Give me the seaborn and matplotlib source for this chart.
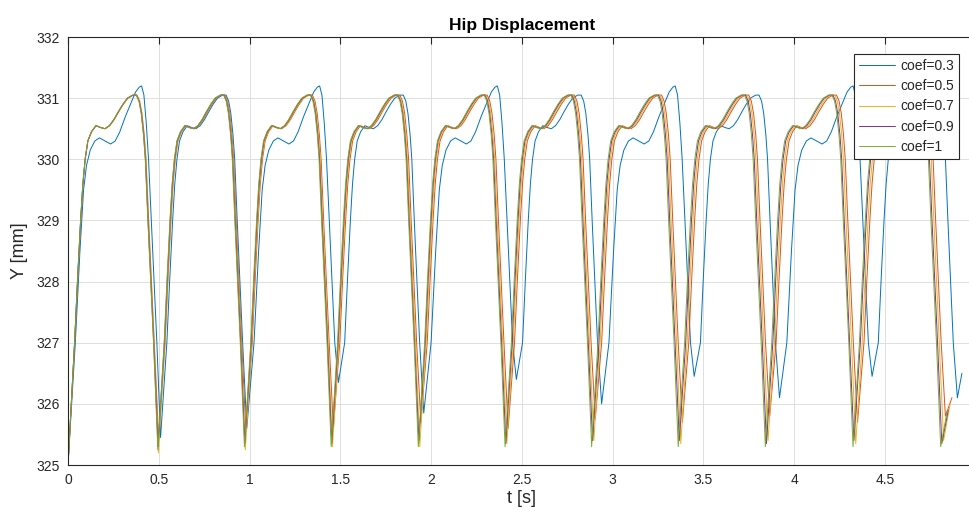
import pandas as pd
import seaborn as sns
import matplotlib
matplotlib.use("Agg")
import matplotlib.pyplot as plt
from matplotlib.ticker import FuncFormatter

labels = ["coef=0.3", "coef=0.5", "coef=0.7", "coef=0.9", "coef=1"]
colors = ["#0072BD", "#D95319", "#EDB120", "#7E2F8E", "#77AC30"]

# one step of the bundle: phase inside the step (0 = trough) and Y [mm]
step_phase = [0.073, 0.105, 0.14, 0.165, 0.19, 0.22, 0.26, 0.31, 0.36, 0.41, 0.46, 0.51,
              0.56, 0.61, 0.66, 0.72, 0.76, 0.79, 0.815, 0.84, 0.86, 0.889, 0.92, 0.952]
step_y = [327.0, 328.0, 329.0, 329.6, 330.0, 330.3, 330.45, 330.55, 330.52, 330.5, 330.55, 330.65,
          330.78, 330.9, 331.0, 331.05, 331.05, 330.95, 330.75, 330.4, 330.0, 329.0, 328.0, 327.0]

# the longer coef=0.3 step: lower shoulder with a dip, higher peak
long_phase = [0.079, 0.129, 0.168, 0.20, 0.24, 0.29, 0.34, 0.40, 0.46, 0.51, 0.56, 0.62,
              0.68, 0.73, 0.77, 0.795, 0.82, 0.845, 0.87, 0.90, 0.93, 0.96]
long_y = [327.0, 328.5, 329.5, 329.9, 330.15, 330.3, 330.35, 330.3, 330.25, 330.3, 330.45, 330.7,
          330.92, 331.1, 331.18, 331.2, 331.05, 330.6, 330.0, 329.0, 328.0, 327.0]

# trough times [s] and trough values [mm] for each coef
trough_t = {
    "coef=0.3": [0.0, 0.51, 0.985, 1.49, 1.96, 2.47, 2.94, 3.45, 3.92, 4.43, 4.90],
    "coef=0.5": [0.0, 0.50, 0.98, 1.462, 1.944, 2.425, 2.905, 3.385, 3.866, 4.35, 4.834],
    "coef=0.7": [0.0, 0.498, 0.977, 1.457, 1.938, 2.418, 2.897, 3.376, 3.857, 4.34, 4.824],
    "coef=0.9": [0.0, 0.496, 0.974, 1.453, 1.933, 2.412, 2.89, 3.368, 3.848, 4.33, 4.814],
    "coef=1": [0.0, 0.495, 0.972, 1.45, 1.93, 2.408, 2.885, 3.362, 3.842, 4.325, 4.808],
}
trough_y = {
    "coef=0.3": [325.0, 325.45, 325.6, 326.35, 325.85, 326.4, 326.0, 326.45, 326.1, 326.45, 326.1],
    "coef=0.5": [325.0, 325.4, 325.55, 325.6, 325.7, 325.6, 325.75, 325.7, 325.8, 325.7, 325.8],
    "coef=0.7": [325.0, 325.2, 325.25, 325.3, 325.3, 325.35, 325.4, 325.35, 325.4, 325.35, 325.4],
    "coef=0.9": [325.0, 325.3, 325.35, 325.35, 325.4, 325.35, 325.4, 325.4, 325.35, 325.4, 325.35],
    "coef=1": [325.0, 325.25, 325.3, 325.3, 325.3, 325.3, 325.3, 325.3, 325.3, 325.3, 325.3],
}
# which steps of coef=0.3 are the long ones
long_steps = [True, False, True, False, True, False, True, False, True, False]
# last sample of each run
end_t = {"coef=0.3": 4.925, "coef=0.5": 4.87, "coef=0.7": 4.86, "coef=0.9": 4.85, "coef=1": 4.845}
end_y = {"coef=0.3": 326.5, "coef=0.5": 326.1, "coef=0.7": 326.0, "coef=0.9": 325.9, "coef=1": 325.9}

rows = []
for name in labels:
    tt, ty = trough_t[name], trough_y[name]
    for i in range(len(tt)):
        rows.append((name, tt[i], ty[i]))
        if i + 1 == len(tt):
            break
        if name == "coef=0.3" and long_steps[i]:
            ph, yy = long_phase, long_y
        else:
            ph, yy = step_phase, step_y
        span = tt[i + 1] - tt[i]
        for p, v in zip(ph, yy):
            rows.append((name, tt[i] + p * span, v))
    rows.append((name, end_t[name], end_y[name]))
df = pd.DataFrame(rows, columns=["coef", "t", "Y"])

sns.set_style("white")
plt.rcParams["font.family"] = ["Liberation Sans", "DejaVu Sans"]
text_c = "#262626"

fig = plt.figure(figsize=(9.7, 5.19), dpi=100)
ax = fig.add_axes([0.0701, 0.104, 0.9356, 0.8247])
sns.lineplot(data=df, x="t", y="Y", hue="coef", hue_order=labels, palette=colors,
             estimator=None, sort=False, linewidth=0.7, legend=False, ax=ax)

ax.set_xlim(0, 5)
ax.set_ylim(325, 332)
ax.set_xticks([i * 0.5 for i in range(11)])
ax.set_yticks(range(325, 333))
ax.xaxis.set_major_formatter(FuncFormatter(lambda v, p: f"{v:g}"))
ax.grid(True, color="#dedede", linewidth=0.7)
ax.set_axisbelow(True)
for s in ax.spines.values():
    s.set_color(text_c)
    s.set_linewidth(0.8)
ax.tick_params(direction="in", length=5, width=0.8, color=text_c, labelcolor=text_c,
               labelsize=10, top=True, pad=6)

ax.set_xlabel("t [s]", fontsize=13, color=text_c, labelpad=2)
ax.set_ylabel("Y [mm]", fontsize=13, color=text_c, labelpad=6)
ax.set_title("Hip Displacement", fontsize=12.5, fontweight="bold", color="black", pad=5)

leg = ax.legend(ax.lines[:5], labels, loc="upper right",
                bbox_to_anchor=(959 / 970, 1 - 54 / 519), bbox_transform=fig.transFigure,
                borderaxespad=0, fontsize=10, handlelength=2.6, handletextpad=0.4,
                labelspacing=0.45, borderpad=0.35, fancybox=False, framealpha=1)
leg.get_frame().set_edgecolor(text_c)
leg.get_frame().set_linewidth(0.8)
for t in leg.get_texts():
    t.set_color(text_c)

fig.savefig("out.png", dpi=100)
